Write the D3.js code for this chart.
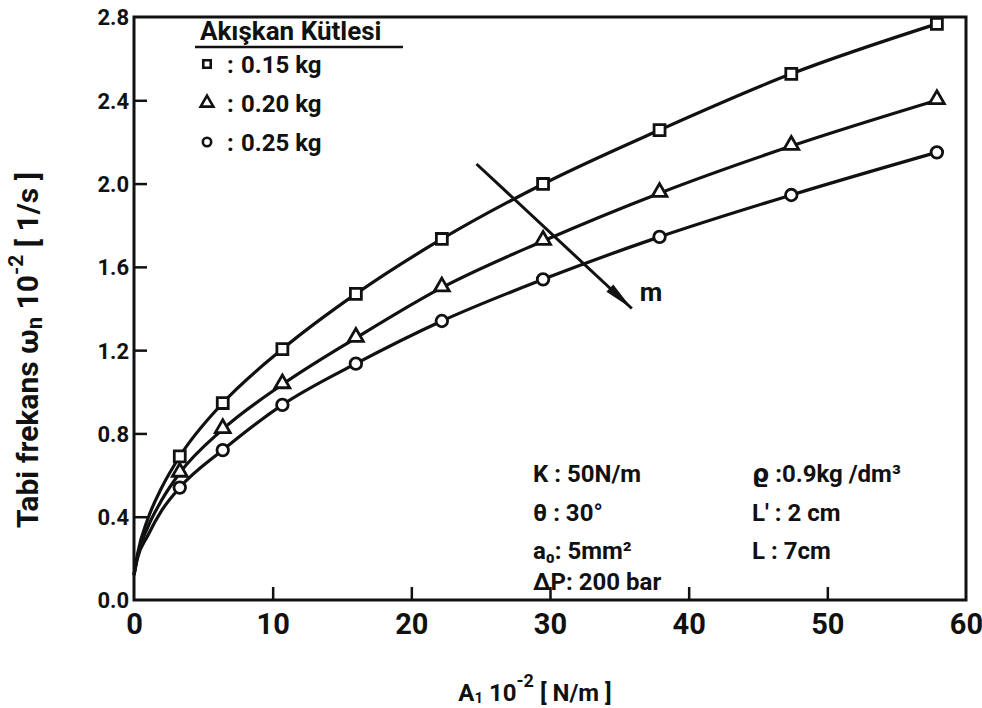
<!DOCTYPE html>
<html>
<head>
<meta charset="utf-8">
<script src="https://cdn.jsdelivr.net/npm/d3@7"></script>
<style>
  body { margin: 0; background: #fff; }
  svg text { font-family: Roboto, "DejaVu Sans", sans-serif; font-weight: 700; fill: #111; }
</style>
</head>
<body>
<div id="app"></div>
<script>
// Measured points (A1 in 10^2 N/m, omega_n in 10^2 1/s)
const xValues = [3.3, 6.4, 10.7, 16.0, 22.2, 29.5, 37.9, 47.4, 57.9];
const mass015 = [0.69, 0.946, 1.205, 1.47, 1.734, 1.998, 2.257, 2.527, 2.767];
const mass020 = [0.61, 0.82, 1.035, 1.258, 1.50, 1.724, 1.954, 2.18, 2.40];
const mass025 = [0.54, 0.72, 0.937, 1.135, 1.34, 1.54, 1.744, 1.945, 2.15];

// where the drawn curves leave the origin
const leadX = [0, 0.25, 1, 2];
const lead015 = [0.12, 0.22, 0.39, 0.54];
const lead020 = [0.12, 0.21, 0.35, 0.48];
const lead025 = [0.12, 0.20, 0.31, 0.43];

const xTicks = [0, 10, 20, 30, 40, 50, 60];
const yTicks = [0.0, 0.4, 0.8, 1.2, 1.6, 2.0, 2.4, 2.8];

const legendTitle = "Akışkan Kütlesi";
const legendLabels = ["0.15 kg", "0.20 kg", "0.25 kg"];
const paramsLeft = ["K : 50N/m", "θ : 30°", "a₀: 5mm²", "ΔP: 200 bar"];
const paramsRight = ["ϱ :0.9kg /dm³", "L' : 2 cm", "L : 7cm"];

// direction arrow for increasing mass m
const arrowFrom = [24.7, 2.094];
const arrowTo = [35.9, 1.40];

const width = 982;
const height = 708;
const plotLeft = 134, plotRight = 966, plotTop = 17, plotBottom = 600;

const x = d3.scaleLinear().domain([0, 60]).range([plotLeft, plotRight]);
const y = d3.scaleLinear().domain([0, 2.8]).range([plotBottom, plotTop]);

const svg = d3.select("#app").append("svg")
  .attr("width", width)
  .attr("height", height);

// frame
svg.append("rect")
  .attr("x", plotLeft).attr("y", plotTop)
  .attr("width", plotRight - plotLeft).attr("height", plotBottom - plotTop)
  .attr("fill", "none").attr("stroke", "#111").attr("stroke-width", 3);

// axes with inward ticks
const xAxis = svg.append("g")
  .attr("transform", `translate(0,${plotBottom})`)
  .call(d3.axisBottom(x).tickValues(xTicks).tickSizeInner(-13).tickSizeOuter(0));
const yAxis = svg.append("g")
  .attr("transform", `translate(${plotLeft},0)`)
  .call(d3.axisLeft(y).tickValues(yTicks).tickFormat(d3.format(".1f")).tickSizeInner(-13).tickSizeOuter(0));

[xAxis, yAxis].forEach((g) => {
  g.select(".domain").remove();
  g.selectAll(".tick line").attr("stroke", "#111").attr("stroke-width", 2.5);
  g.selectAll(".tick text").attr("fill", "#111");
});
xAxis.selectAll(".tick text").style("font-size", "29px").attr("dy", "0.71em").attr("y", 13);
xAxis.selectAll(".tick line").filter((d) => d === 0 || d === 60).remove();
yAxis.selectAll(".tick text").style("font-size", "22px").attr("x", -5).attr("dy", "0.36em");
yAxis.selectAll(".tick line").filter((d) => d === 0 || d === 2.8).remove();

// axis titles
const xt = svg.append("text")
  .attr("x", 535).attr("y", 701)
  .attr("text-anchor", "middle")
  .style("font-size", "24px");
xt.append("tspan").text("A");
xt.append("tspan").text("1").style("font-size", "15px").attr("dy", 2);
xt.append("tspan").text(" 10").attr("dy", -2);
xt.append("tspan").text("-2").style("font-size", "18px").attr("dy", -14);
xt.append("tspan").text(" [ N/m ]").attr("dy", 14);

const yt = svg.append("text")
  .attr("transform", "translate(38,350) rotate(-90)")
  .attr("text-anchor", "middle")
  .style("font-size", "30px");
yt.append("tspan").text("Tabi frekans ω");
yt.append("tspan").text("n").style("font-size", "22px").attr("dy", 4);
yt.append("tspan").text(" 10").attr("dy", -4);
yt.append("tspan").text("-2").style("font-size", "21px").attr("dy", -15);
yt.append("tspan").text(" [ 1/s ]").attr("dy", 15);

// series
const series = [
  { vals: mass015, lead: lead015, shape: "square" },
  { vals: mass020, lead: lead020, shape: "triangle" },
  { vals: mass025, lead: lead025, shape: "circle" }
];

const line = d3.line()
  .x((d) => x(d[0]))
  .y((d) => y(d[1]))
  .curve(d3.curveMonotoneX);

const symbolType = { square: d3.symbolSquare, triangle: d3.symbolTriangle, circle: d3.symbolCircle };
const symbolSize = { square: 120, triangle: 95, circle: 105 };

series.forEach((s) => {
  const pts = leadX.map((v, i) => [v, s.lead[i]])
    .concat(xValues.map((v, i) => [v, s.vals[i]]));
  svg.append("path")
    .datum(pts)
    .attr("d", line)
    .attr("fill", "none")
    .attr("stroke", "#111")
    .attr("stroke-width", 3.2);

  svg.selectAll(null)
    .data(xValues.map((v, i) => [v, s.vals[i]]))
    .enter()
    .append("path")
    .attr("d", d3.symbol().type(symbolType[s.shape]).size(symbolSize[s.shape]))
    .attr("transform", (d) => `translate(${x(d[0])},${y(d[1]) - (s.shape === "triangle" ? 1 : 0)})`)
    .attr("fill", "#fff")
    .attr("stroke", "#111")
    .attr("stroke-width", 2.8);
});

// arrow showing increasing mass
svg.append("line")
  .attr("x1", x(arrowFrom[0])).attr("y1", y(arrowFrom[1]))
  .attr("x2", x(arrowTo[0])).attr("y2", y(arrowTo[1]))
  .attr("stroke", "#111").attr("stroke-width", 3);
const ax = x(arrowTo[0]), ay = y(arrowTo[1]);
const ang = Math.atan2(ay - y(arrowFrom[1]), ax - x(arrowFrom[0]));
const headLen = 30, headW = 5;
const bx = ax - headLen * Math.cos(ang), by = ay - headLen * Math.sin(ang);
svg.append("path")
  .attr("d", `M${ax},${ay}L${bx - headW * Math.sin(ang)},${by + headW * Math.cos(ang)}L${bx + headW * Math.sin(ang)},${by - headW * Math.cos(ang)}Z`)
  .attr("fill", "#111");
svg.append("text")
  .attr("x", ax + 8).attr("y", ay - 8)
  .style("font-size", "26px")
  .text("m");

// legend
svg.append("text")
  .attr("x", 200).attr("y", 40)
  .style("font-size", "26px")
  .text(legendTitle);
svg.append("line")
  .attr("x1", 195).attr("x2", 403).attr("y1", 47).attr("y2", 47)
  .attr("stroke", "#111").attr("stroke-width", 2.5);

const legendRows = svg.selectAll(".legend-row")
  .data(series)
  .enter()
  .append("g")
  .attr("class", "legend-row")
  .attr("transform", (d, i) => `translate(207,${64 + i * 39})`);
legendRows.append("path")
  .attr("d", (d) => d3.symbol().type(symbolType[d.shape]).size(d.shape === "triangle" ? 70 : 55)())
  .attr("fill", "#fff")
  .attr("stroke", "#111")
  .attr("stroke-width", 2.6);
legendRows.append("text")
  .attr("x", 20).attr("y", 9)
  .style("font-size", "24px")
  .text(":");
legendRows.append("text")
  .attr("x", 34).attr("y", 9)
  .style("font-size", "24px")
  .text((d, i) => legendLabels[i]);

// parameter block
svg.selectAll(".param-left")
  .data(paramsLeft)
  .enter()
  .append("text")
  .attr("class", "param-left")
  .attr("x", 533)
  .attr("y", (d, i) => [482, 521, 559, 590][i])
  .style("font-size", "24px")
  .text((d) => d);
svg.selectAll(".param-right")
  .data(paramsRight)
  .enter()
  .append("text")
  .attr("class", "param-right")
  .attr("x", 752)
  .attr("y", (d, i) => [482, 521, 559][i])
  .style("font-size", "24px")
  .text((d) => d);
</script>
</body>
</html>
